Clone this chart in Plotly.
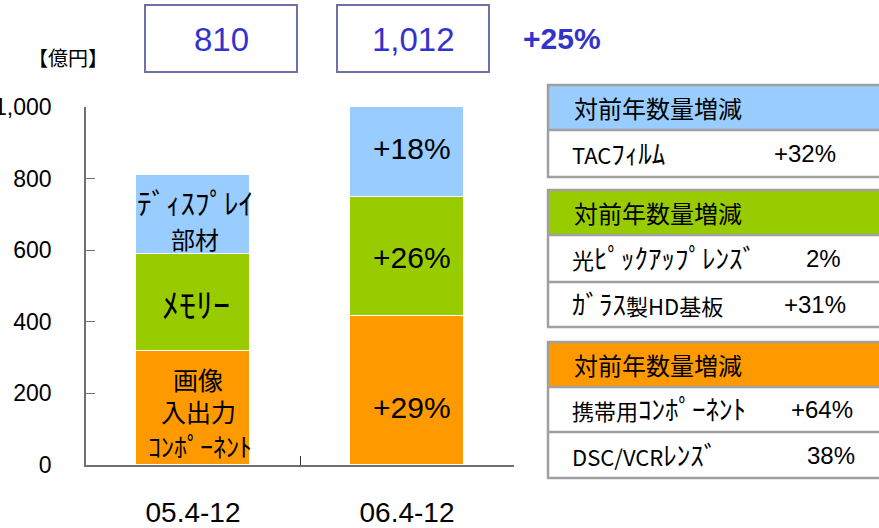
import plotly.graph_objects as go

# data
periods = ["05.4-12", "06.4-12"]
image_io = [319, 417]      # 画像入出力コンポーネント
memory = [271, 333]        # メモリー
display = [220, 262]       # ディスプレイ部材
totals = ["810", "1,012"]
total_growth = "+25%"
growth_labels_06 = ["+29%", "+26%", "+18%"]
segment_lines_05 = [["画像", "入出力", "ｺﾝﾎﾟｰﾈﾝﾄ"], ["ﾒﾓﾘｰ"], ["ﾃﾞｨｽﾌﾟﾚｲ", "部材"]]

table_header = "対前年数量増減"
table_display = [("TACﾌｨﾙﾑ", "+32%")]
table_memory = [("光ﾋﾟｯｸｱｯﾌﾟﾚﾝｽﾞ", "2%"), ("ｶﾞﾗｽ製HD基板", "+31%")]
table_image = [("携帯用ｺﾝﾎﾟｰﾈﾝﾄ", "+64%"), ("DSC/VCRﾚﾝｽﾞ", "38%")]

colors = ["#FF9900", "#99CC00", "#99CCFF"]
num_font = "Liberation Sans, Arial, sans-serif"
jp_font = "Noto Sans CJK JP, sans-serif"

W, H = 879, 528
L, R, T, B = 86, 365, 107, 63
pw, ph = W - L - R, H - T - B


def px(x):
    return (x - L) / pw


def py(y):
    return (H - B - y) / ph


def kana(s, size):
    # half-width katakana look small in Noto, so blow them up a little
    out = ""
    for ch in s:
        if "\uff61" <= ch <= "\uff9f":
            out += '<span style="font-size:%dpx">%s</span>' % (size, ch)
        else:
            out += ch
    return out


fig = go.Figure()
for vals, col in zip([image_io, memory, display], colors):
    fig.add_trace(go.Bar(x=periods, y=vals, marker_color=col,
                         marker_line=dict(color="white", width=1),
                         width=0.53, hoverinfo="skip"))

shapes = []
annotations = []


def text(x, y, s, size, color="black", family=jp_font, xanchor="center", bold=False):
    if bold:
        s = "<b>" + s + "</b>"
    annotations.append(dict(x=px(x), y=py(y), xref="paper", yref="paper", text=s,
                            showarrow=False, xanchor=xanchor, yanchor="middle",
                            font=dict(size=size, color=color, family=family)))


# total boxes on top
for cx, t in zip([221, 413], totals):
    shapes.append(dict(type="rect", xref="paper", yref="paper",
                       x0=px(cx - 76), x1=px(cx + 76), y0=py(72), y1=py(5),
                       line=dict(color="#7070A8", width=2), fillcolor="white"))
    text(cx, 40, t, 33, color="#3333CC", family=num_font)
text(562, 38, total_growth, 30, color="#3333CC", family=num_font, bold=True)
text(68, 57, "【億円】", 20)

# segment labels, first bar
text(195, 202, kana(segment_lines_05[2][0], 29), 23)
text(195, 238, segment_lines_05[2][1], 24)
text(196, 303, kana(segment_lines_05[1][0], 34), 24)
text(198, 379, segment_lines_05[0][0], 25)
text(198, 411, segment_lines_05[0][1], 25)
text(200, 445, kana(segment_lines_05[0][2], 26), 23)

# growth labels, second bar
for y, s in zip([407, 257, 148], growth_labels_06):
    text(412, y, s, 30, family=num_font)

# tables at the right
tables = [
    (85, [130, 177], colors[2], table_display, [838]),
    (190, [235, 282, 327], colors[1], table_memory, [843, 848]),
    (342, [387, 432, 478], colors[0], table_image, [855, 857]),
]
for top, lines, col, rows, right_edges in tables:
    shapes.append(dict(type="rect", xref="paper", yref="paper",
                       x0=px(548), x1=px(905), y0=py(lines[0]), y1=py(top),
                       line=dict(width=0), fillcolor=col))
    shapes.append(dict(type="rect", xref="paper", yref="paper",
                       x0=px(548), x1=px(905), y0=py(lines[-1]), y1=py(top),
                       line=dict(color="#A0A0A0", width=2.5)))
    for yl in lines[:-1]:
        shapes.append(dict(type="line", xref="paper", yref="paper",
                           x0=px(548), x1=px(905), y0=py(yl), y1=py(yl),
                           line=dict(color="#A0A0A0", width=2.5)))
    text(572, (top + lines[0]) / 2, table_header, 24, xanchor="left")
    prev = lines[0]
    for (name, pct), yl, xr in zip(rows, lines[1:], right_edges):
        cy = (prev + yl) / 2
        text(570, cy - 1, kana(name, 27), 22, xanchor="left")
        annotations.append(dict(x=px(xr), y=py(cy), xref="paper", yref="paper", text=pct,
                                showarrow=False, xanchor="right", yanchor="middle",
                                font=dict(size=24, color="black", family=num_font)))
        prev = yl

fig.update_layout(
    barmode="stack", width=W, height=H, showlegend=False,
    margin=dict(l=L, r=R, t=T, b=B),
    plot_bgcolor="white", paper_bgcolor="white",
    shapes=shapes, annotations=annotations, bargap=0,
)
fig.update_xaxes(range=[-0.5, 1.5], showline=True, linecolor="#707070", linewidth=1.5,
                 ticks="inside", tickson="boundaries", ticklen=9, tickcolor="#333333",
                 tickfont=dict(size=28, family=num_font, color="black"),
                 ticklabelstandoff=22, showgrid=False, automargin=False)
fig.update_yaxes(range=[0, 1000], tickvals=[0, 200, 400, 600, 800, 1000],
                 ticktext=["0", "200", "400", "600", "800", "1,000"],
                 showline=True, linecolor="#707070", linewidth=1.5,
                 ticks="inside", ticklen=9, tickcolor="#707070",
                 tickfont=dict(size=23, family=num_font, color="black"),
                 ticklabelstandoff=28, showgrid=False, zeroline=False, automargin=False)

# drop the default body margin so the figure sits at the page corner
fig.write_html("out.html", config={"displayModeBar": False},
               post_script="document.body.style.margin='0px';")
